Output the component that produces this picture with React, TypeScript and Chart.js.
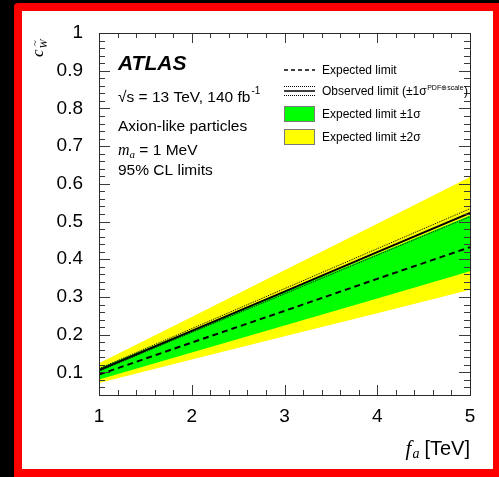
import React, { useEffect, useRef } from "react";
import { Chart, registerables } from "chart.js";

Chart.register(...registerables);

// ---------- data ----------
const faTeV = [1, 2, 3, 4, 5];
const expectedLimit = [0.094, 0.179, 0.263, 0.348, 0.432];
const observedLimit = [0.106, 0.21, 0.314, 0.419, 0.523];
const observedUp = [0.11, 0.216, 0.322, 0.428, 0.534];
const observedDown = [0.103, 0.206, 0.308, 0.411, 0.513];
const expectedPlus1s = [0.111, 0.212, 0.313, 0.414, 0.516];
const expectedMinus1s = [0.081, 0.153, 0.224, 0.296, 0.368];
const expectedPlus2s = [0.124, 0.247, 0.371, 0.494, 0.618];
const expectedMinus2s = [0.072, 0.134, 0.196, 0.257, 0.319];

const xTickValues = [1, 2, 3, 4, 5];
const yTickValues = [0.1, 0.2, 0.3, 0.4, 0.5, 0.6, 0.7, 0.8, 0.9, 1.0];
const xRange = [1, 5];
const yRange = [0.04, 1.0];

const legendLabels = [
  "Expected limit",
  "Observed limit (\u00b11\u03c3",
  "Expected limit \u00b11\u03c3",
  "Expected limit \u00b12\u03c3",
];
const infoLines = ["ATLAS", "\u221as = 13 TeV, 140 fb", "Axion-like particles", " = 1 MeV", "95% CL limits"];

const W = 499;
const H = 477;
const SANS = "'Liberation Sans', Arial, Helvetica, sans-serif";
const SERIF = "'Liberation Serif', 'Times New Roman', serif";

const pts = (ys: number[]) => faTeV.map((x, i) => ({ x, y: ys[i] }));

const backgroundPlugin = {
  id: "bgFrame",
  beforeDraw(chart: any) {
    const ctx = chart.ctx as CanvasRenderingContext2D;
    ctx.save();
    ctx.fillStyle = "#000";
    ctx.fillRect(0, 0, W, H);
    ctx.fillStyle = "#ff0000";
    ctx.beginPath();
    (ctx as any).roundRect(14, 3, 490, 480, 4);
    ctx.fill();
    ctx.fillStyle = "#ffffff";
    ctx.fillRect(22, 11, 471, 458);
    ctx.restore();
  },
};

const axesPlugin = {
  id: "rootAxes",
  afterDatasetsDraw(chart: any) {
    const ctx = chart.ctx as CanvasRenderingContext2D;
    const { left, right, top, bottom } = chart.chartArea;
    const xs = chart.scales.x;
    const ys = chart.scales.y;
    ctx.save();
    ctx.strokeStyle = "#3a3a3a";
    ctx.lineWidth = 1;
    ctx.beginPath();
    // x ticks (major every 1, minor every 0.2)
    for (let k = 0; k <= 20; k++) {
      const v = xRange[0] + k * 0.2;
      const px = Math.round(xs.getPixelForValue(v)) + 0.5;
      const len = k % 5 === 0 ? 10 : 5;
      ctx.moveTo(px, bottom);
      ctx.lineTo(px, bottom - len);
      ctx.moveTo(px, top);
      ctx.lineTo(px, top + len);
    }
    // y ticks (major every 0.1, minor every 0.02)
    for (let k = 2; k <= 50; k++) {
      const v = k * 0.02;
      if (v < yRange[0] - 1e-9) continue;
      const py = Math.round(ys.getPixelForValue(v)) + 0.5;
      const len = k % 5 === 0 ? 11 : 6;
      ctx.moveTo(left, py);
      ctx.lineTo(left + len, py);
      ctx.moveTo(right, py);
      ctx.lineTo(right - len, py);
    }
    ctx.stroke();
    ctx.strokeStyle = "#2a2a2a";
    ctx.strokeRect(Math.round(left) + 0.5, Math.round(top) + 0.5, Math.round(right - left), Math.round(bottom - top));
    ctx.restore();
  },
};

const textPlugin = {
  id: "texts",
  afterDraw(chart: any) {
    const ctx = chart.ctx as CanvasRenderingContext2D;
    const { right } = chart.chartArea;
    ctx.save();
    ctx.fillStyle = "#000";
    ctx.textBaseline = "alphabetic";
    ctx.textAlign = "left";

    // ATLAS label block
    ctx.font = `italic bold 21px ${SANS}`;
    ctx.fillText(infoLines[0], 118, 70);
    ctx.font = `15.5px ${SANS}`;
    ctx.fillText(infoLines[1], 118, 101.5);
    let w = ctx.measureText(infoLines[1]).width;
    ctx.font = `10px ${SANS}`;
    ctx.fillText("-1", 118 + w + 1, 94);
    ctx.font = `15.5px ${SANS}`;
    ctx.fillText(infoLines[2], 118, 130.5);
    ctx.font = `italic 16px ${SERIF}`;
    ctx.fillText("m", 118, 155);
    let mx = 118 + ctx.measureText("m").width;
    ctx.font = `italic 11px ${SERIF}`;
    ctx.fillText("a", mx, 158);
    mx += ctx.measureText("a").width;
    ctx.font = `15.5px ${SANS}`;
    ctx.fillText(infoLines[3], mx, 155);
    ctx.fillText(infoLines[4], 118, 175);

    // legend
    const lx0 = 284;
    const lx1 = 315;
    const tx = 322;
    const rows = [70, 91, 114, 137];
    ctx.strokeStyle = "#000";
    // expected (dashed)
    ctx.lineWidth = 1.5;
    ctx.setLineDash([4, 3]);
    ctx.beginPath();
    ctx.moveTo(lx0, rows[0]);
    ctx.lineTo(lx1, rows[0]);
    ctx.stroke();
    // observed: solid + dotted
    ctx.setLineDash([]);
    ctx.beginPath();
    ctx.moveTo(lx0, rows[1]);
    ctx.lineTo(lx1, rows[1]);
    ctx.stroke();
    ctx.lineWidth = 1;
    ctx.setLineDash([1, 1]);
    ctx.beginPath();
    ctx.moveTo(lx0, rows[1] - 4.5);
    ctx.lineTo(lx1, rows[1] - 4.5);
    ctx.moveTo(lx0, rows[1] + 4.5);
    ctx.lineTo(lx1, rows[1] + 4.5);
    ctx.stroke();
    ctx.setLineDash([]);
    // boxes
    ctx.strokeStyle = "#7a7a7a";
    ctx.fillStyle = "#00ff00";
    ctx.fillRect(lx0, rows[2] - 8, lx1 - lx0, 16);
    ctx.strokeRect(lx0 + 0.5, rows[2] - 7.5, lx1 - lx0 - 1, 15);
    ctx.fillStyle = "#ffff00";
    ctx.fillRect(lx0, rows[3] - 8, lx1 - lx0, 16);
    ctx.strokeRect(lx0 + 0.5, rows[3] - 7.5, lx1 - lx0 - 1, 15);

    ctx.fillStyle = "#000";
    ctx.font = `12px ${SANS}`;
    ctx.fillText(legendLabels[0], tx, rows[0] + 4.3);
    ctx.fillText(legendLabels[1], tx, rows[1] + 4.3);
    let ow = ctx.measureText(legendLabels[1]).width;
    ctx.font = `7px ${SANS}`;
    const sup = "PDF\u2295scale";
    ctx.fillText(sup, tx + ow + 0.5, rows[1] - 1.5);
    const sw = ctx.measureText(sup).width;
    ctx.font = `12px ${SANS}`;
    ctx.fillText(")", tx + ow + sw + 1, rows[1] + 4.3);
    ctx.fillText(legendLabels[2], tx, rows[2] + 4.3);
    ctx.fillText(legendLabels[3], tx, rows[3] + 4.3);

    // x axis title: f_a [TeV]
    ctx.font = `20px ${SANS}`;
    const tev = "[TeV]";
    const tevW = ctx.measureText(tev).width;
    const tevX = right - tevW;
    ctx.fillText(tev, tevX, 455);
    ctx.font = `italic 14px ${SERIF}`;
    const aW = ctx.measureText("a").width;
    const aX = tevX - 5 - aW;
    ctx.fillText("a", aX, 458);
    ctx.font = `italic 21px ${SERIF}`;
    const fW = ctx.measureText("f").width;
    ctx.fillText("f", aX - fW - 1, 455);

    // y axis title: c_W~ (rotated)
    ctx.save();
    ctx.translate(43, 57);
    ctx.rotate(-Math.PI / 2);
    ctx.font = `italic 17px ${SERIF}`;
    ctx.fillText("c", 0, 0);
    const cW = ctx.measureText("c").width;
    ctx.font = `italic 11px ${SERIF}`;
    ctx.fillText("W", cW + 1, 4);
    const wW = ctx.measureText("W").width;
    ctx.fillText("~", cW + 1 + wW * 0.25, -5);
    ctx.restore();

    ctx.restore();
  },
};

export default function App() {
  const canvasRef = useRef<HTMLCanvasElement | null>(null);

  useEffect(() => {
    const canvas = canvasRef.current;
    if (!canvas) return;
    const base = { pointRadius: 0, tension: 0, borderWidth: 0 };
    const chart = new Chart(canvas, {
      type: "line",
      data: {
        datasets: [
          { ...base, label: "+2s", data: pts(expectedPlus2s), fill: 1, backgroundColor: "#ffff00", borderColor: "rgba(0,0,0,0)", order: 10 } as any,
          { ...base, label: "-2s", data: pts(expectedMinus2s), fill: false, borderColor: "rgba(0,0,0,0)", order: 10 },
          { ...base, label: "+1s", data: pts(expectedPlus1s), fill: 3, backgroundColor: "#00ff00", borderColor: "rgba(0,0,0,0)", order: 8 } as any,
          { ...base, label: "-1s", data: pts(expectedMinus1s), fill: false, borderColor: "rgba(0,0,0,0)", order: 8 },
          { ...base, label: "Expected limit", data: pts(expectedLimit), fill: false, borderColor: "#000", borderWidth: 2, borderDash: [6, 4], order: 3 },
          { ...base, label: "Observed up", data: pts(observedUp), fill: false, borderColor: "#000", borderWidth: 1, borderDash: [1, 1], order: 2 },
          { ...base, label: "Observed down", data: pts(observedDown), fill: false, borderColor: "#000", borderWidth: 1, borderDash: [1, 1], order: 2 },
          { ...base, label: "Observed limit", data: pts(observedLimit), fill: false, borderColor: "#000", borderWidth: 2, order: 1 },
        ],
      },
      options: {
        responsive: false,
        animation: false,
        devicePixelRatio: 1,
        layout: { padding: { left: 0, top: 33, right: 29, bottom: 0 } },
        plugins: { legend: { display: false }, tooltip: { enabled: false } },
        scales: {
          x: {
            type: "linear",
            min: xRange[0],
            max: xRange[1],
            grid: { display: false },
            border: { display: false },
            ticks: {
              color: "#000",
              font: { family: SANS, size: 19 },
              padding: 2,
              maxRotation: 0,
              autoSkip: false,
              callback: (v: any) => String(v),
            },
            afterBuildTicks: (s: any) => {
              s.ticks = xTickValues.map((v) => ({ value: v }));
            },
            afterFit: (s: any) => {
              s.height = 82;
            },
          },
          y: {
            type: "linear",
            min: yRange[0],
            max: yRange[1],
            grid: { display: false },
            border: { display: false },
            ticks: {
              color: "#000",
              font: { family: SANS, size: 19 },
              padding: 8,
              autoSkip: false,
              callback: (v: any) => (Math.abs(v - 1) < 1e-9 ? "1" : Number(v).toFixed(1)),
            },
            afterBuildTicks: (s: any) => {
              s.ticks = yTickValues.map((v) => ({ value: v }));
            },
            afterFit: (s: any) => {
              s.width = 99;
            },
          },
        },
      },
      plugins: [backgroundPlugin, axesPlugin, textPlugin],
    });
    return () => chart.destroy();
  }, []);

  return (
    <div style={{ position: "fixed", left: 0, top: 0, width: W, height: H, background: "#000" }}>
      <canvas ref={canvasRef} width={W} height={H} style={{ display: "block", width: W, height: H }} />
    </div>
  );
}
